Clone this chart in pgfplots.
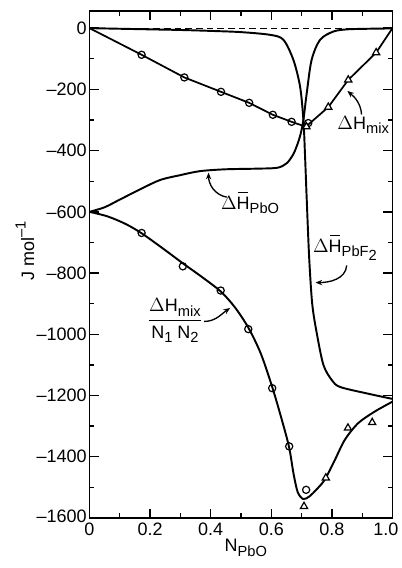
\documentclass[border=0pt]{standalone}
\usepackage{fontspec}
\setmainfont{Liberation Sans}
\usepackage{amsmath}
\usepackage{pgfplots}
\pgfplotsset{compat=1.18}
\usetikzlibrary{arrows.meta}
\newcommand{\sub}[1]{\raisebox{-0.45ex}{\fontsize{11}{11}\selectfont #1}}
\newcommand{\Hbar}{\ooalign{H\cr\hidewidth\rule[0.9em]{0.55em}{0.07em}\hidewidth\cr}}
\begin{document}
\begin{tikzpicture}[font=\fontsize{13.5}{15}\selectfont]
\begin{axis}[
  scale only axis, width=227.25pt, height=380.25pt,
  xmin=0, xmax=1, ymin=-1600, ymax=56,
  axis line style={line width=1.2pt},
  tick align=inside, tick style={line width=1pt, black},
  major tick length=7pt, minor tick length=3.5pt,
  xtick={0,0.2,0.4,0.6,0.8,1.0},
  xticklabels={0,0.2,0.4,0.6,0.8,{\kern-10pt 1.0}},
  minor x tick num=1,
  ytick={-1600,-1400,-1200,-1000,-800,-600,-400,-200,0},
  yticklabels={\raisebox{2pt}{\textendash1600},\textendash1400,\textendash1200,\textendash1000,\textendash800,\textendash600,\textendash400,\textendash200,0},
  minor y tick num=1,
  xticklabel style={inner sep=2pt, yshift=-1.5pt},
  yticklabel style={inner sep=2pt},
  xlabel={N\sub{PbO}},
  ylabel={J mol\raisebox{0.9ex}{\fontsize{11}{11}\selectfont\textendash1}},
  xlabel style={at={(rel axis cs:0.516,-0.059)}, anchor=center},
  ylabel style={at={(rel axis cs:-0.213,0.527)}, anchor=center, rotate=0},
  clip=false,
  every axis plot/.append style={line width=1.45pt, black},
]
% dashed zero line
\addplot[line width=0.9pt, dashed, dash pattern=on 5pt off 3pt] coordinates {(0,0) (1,0)};
% Delta H mix line
\addplot[line width=1.3pt, mark=none] coordinates {
(0,0) (0.172,-87) (0.313,-161) (0.434,-208) (0.527,-244) (0.605,-283) (0.667,-306) (0.714,-322) (0.788,-258) (0.854,-169) (0.946,-80) (1,0)};
\addplot[only marks, mark=o, mark size=2.7pt, mark options={fill=white, line width=0.9pt}] coordinates {
(0.172,-87) (0.313,-161) (0.434,-208) (0.527,-244) (0.605,-283) (0.667,-306) (0.722,-310)};
\addplot[only marks, mark=triangle*, mark size=3.1pt, mark options={fill=white, line width=0.9pt}] coordinates {
(0.716,-322) (0.788,-258) (0.854,-169) (0.946,-80)};
% partial PbO
\addplot[smooth, mark=none] coordinates {
(0,-600) (0.05,-585) (0.1,-560) (0.17,-525) (0.233,-496) (0.3,-480) (0.365,-467) (0.45,-461) (0.55,-459) (0.62,-456) (0.651,-441) (0.672,-413) (0.686,-380) (0.697,-345) (0.706,-299) (0.717,-212) (0.733,-104) (0.761,-38) (0.805,-11) (0.85,-4) (0.92,-2) (1,-1)};
% partial PbF2
\addplot[smooth, mark=none] coordinates {
(0,0) (0.1,-2) (0.2,-4) (0.3,-6) (0.4,-9) (0.5,-13) (0.597,-22) (0.64,-38) (0.673,-104) (0.695,-191) (0.706,-299) (0.711,-408) (0.717,-561) (0.725,-750) (0.735,-900) (0.75,-996) (0.772,-1100) (0.80,-1150) (0.827,-1172) (0.915,-1193) (1,-1211)};
% Delta H mix / N1N2
\addplot[smooth, mark=none] coordinates {
(0,-600) (0.06,-615) (0.12,-640) (0.172,-670) (0.24,-718) (0.308,-768) (0.37,-812) (0.433,-860) (0.48,-912) (0.524,-978) (0.565,-1062) (0.603,-1172) (0.635,-1280) (0.659,-1370) (0.673,-1453) (0.687,-1515) (0.705,-1538) (0.725,-1530) (0.75,-1506) (0.777,-1474) (0.81,-1410) (0.843,-1344) (0.887,-1290) (0.942,-1252) (1,-1220)};
\addplot[only marks, mark=o, mark size=2.7pt, mark options={fill=white, line width=0.9pt}] coordinates {
(0.172,-669) (0.308,-778) (0.433,-857) (0.524,-983) (0.603,-1176) (0.659,-1366) (0.715,-1508)};
\addplot[only marks, mark=triangle*, mark size=3.1pt, mark options={fill=white, line width=0.9pt}] coordinates {
(0.708,-1562) (0.780,-1469) (0.853,-1306) (0.933,-1288)};
% labels
\node at (axis cs:0.903,-316) {$\Delta$H\sub{mix}};
\draw[line width=1pt, -{Stealth[length=5pt,width=4pt]}] (axis cs:0.898,-282) to[out=95,in=-40] (axis cs:0.851,-205);
\node at (axis cs:0.53,-577) {$\Delta$\Hbar\sub{PbO}};
\draw[line width=1pt, -{Stealth[length=5pt,width=4pt]}] (axis cs:0.453,-552) to[out=170,in=-90] (axis cs:0.393,-472);
\node at (axis cs:0.843,-724) {$\Delta$\Hbar\sub{PbF\sub{2}}};
\draw[line width=1pt, -{Stealth[length=5pt,width=4pt]}] (axis cs:0.849,-775) to[out=-95,in=0] (axis cs:0.746,-831);
\node at (axis cs:0.282,-956) {$\genfrac{}{}{1pt}{0}{\mbox{$\Delta$H\sub{mix}}}{\mbox{N\sub{1} N\sub{2}}}$};
\draw[line width=1pt, -{Stealth[length=5pt,width=4pt]}] (axis cs:0.378,-958) to[out=0,in=215] (axis cs:0.464,-914);
\end{axis}
\pgfresetboundingbox
\path[use as bounding box] ([shift={(-67.125pt,-37.5pt)}]current axis.south west) rectangle ([shift={(6.375pt,8.25pt)}]current axis.north east);
\end{tikzpicture}
\end{document}
